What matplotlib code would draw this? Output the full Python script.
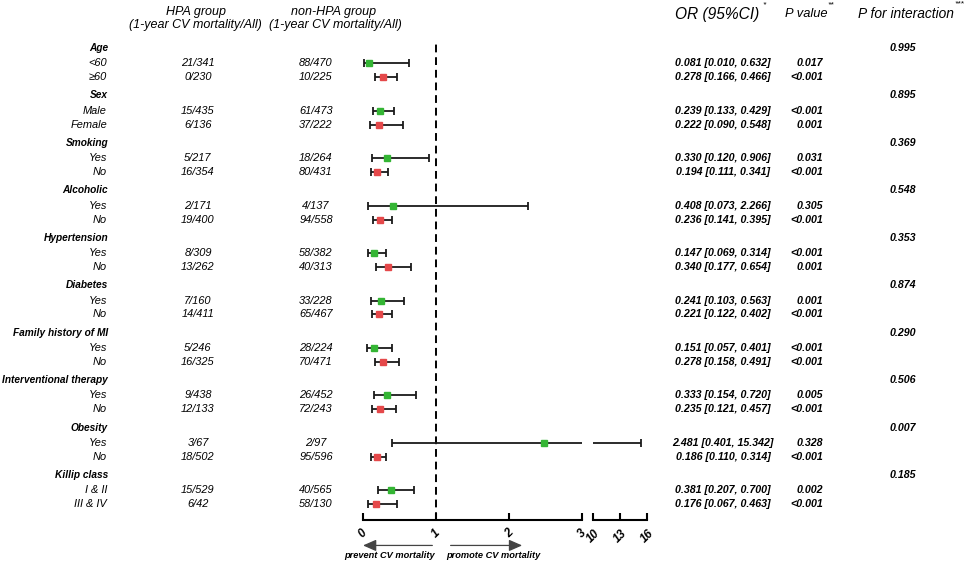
import matplotlib
matplotlib.use('Agg')
import matplotlib.pyplot as plt
import matplotlib.transforms as mtransforms

plt.rcParams['font.family'] = ['Liberation Sans', 'DejaVu Sans']

W, H = 967, 563

groups = ['Age', 'Sex', 'Smoking', 'Alcoholic', 'Hypertension', 'Diabetes',
          'Family history of MI', 'Interventional therapy', 'Obesity', 'Killip class']
subgroups = [['<60', '≥60'], ['Male', 'Female'], ['Yes', 'No'], ['Yes', 'No'],
             ['Yes', 'No'], ['Yes', 'No'], ['Yes', 'No'], ['Yes', 'No'],
             ['Yes', 'No'], ['I & II', 'III & IV']]
hpa = ['21/341', '0/230', '15/435', '6/136', '5/217', '16/354', '2/171', '19/400',
       '8/309', '13/262', '7/160', '14/411', '5/246', '16/325', '9/438', '12/133',
       '3/67', '18/502', '15/529', '6/42']
nonhpa = ['88/470', '10/225', '61/473', '37/222', '18/264', '80/431', '4/137', '94/558',
          '58/382', '40/313', '33/228', '65/467', '28/224', '70/471', '26/452', '72/243',
          '2/97', '95/596', '40/565', '58/130']
odds = [0.081, 0.278, 0.239, 0.222, 0.330, 0.194, 0.408, 0.236, 0.147, 0.340,
        0.241, 0.221, 0.151, 0.278, 0.333, 0.235, 2.481, 0.186, 0.381, 0.176]
ci_lo = [0.010, 0.166, 0.133, 0.090, 0.120, 0.111, 0.073, 0.141, 0.069, 0.177,
         0.103, 0.122, 0.057, 0.158, 0.154, 0.121, 0.401, 0.110, 0.207, 0.067]
ci_hi = [0.632, 0.466, 0.429, 0.548, 0.906, 0.341, 2.266, 0.395, 0.314, 0.654,
         0.563, 0.402, 0.401, 0.491, 0.720, 0.457, 15.342, 0.314, 0.700, 0.463]
pvals = ['0.017', '<0.001', '<0.001', '0.001', '0.031', '<0.001', '0.305', '<0.001',
         '<0.001', '0.001', '0.001', '<0.001', '<0.001', '<0.001', '0.005', '<0.001',
         '0.328', '<0.001', '0.002', '<0.001']
p_inter = ['0.995', '0.895', '0.369', '0.548', '0.353', '0.874', '0.290', '0.506',
           '0.007', '0.185']
ticks_lo = [0, 1, 2, 3]
ticks_hi = [10, 13, 16]

green = '#34b534'
red = '#e5484a'

fig = plt.figure(figsize=(W / 100, H / 100), dpi=100)
ax_top, ax_bot = 40, 520
ax1 = fig.add_axes([363 / W, (H - ax_bot) / H, (582 - 363) / W, (ax_bot - ax_top) / H])
ax2 = fig.add_axes([593 / W, (H - ax_bot) / H, (647 - 593) / W, (ax_bot - ax_top) / H])

# row layout: header then two rows per group
gstep = 3.25
ylim = (32.33, -0.55)
head_y = [g * gstep for g in range(len(groups))]
row_y = []
for g in range(len(groups)):
    row_y += [g * gstep + 1.05, g * gstep + 2.0]

for ax in (ax1, ax2):
    ax.set_ylim(*ylim)
    for i in range(len(odds)):
        col = green if i % 2 == 0 else red
        ax.errorbar(odds[i], row_y[i], xerr=[[odds[i] - ci_lo[i]], [ci_hi[i] - odds[i]]],
                    fmt='s', color=col, ms=5, ecolor='#1a1a1a', elinewidth=1.3,
                    capsize=3, capthick=1.3, mec=col, zorder=3)
    for s in ['top', 'left', 'right']:
        ax.spines[s].set_visible(False)
    ax.spines['bottom'].set_linewidth(1.5)
    ax.set_yticks([])
    ax.tick_params(axis='x', direction='in', length=5, width=1.5, pad=5)

ax1.set_xlim(0, 3)
ax2.set_xlim(10, 16)
ax1.set_xticks(ticks_lo)
ax2.set_xticks(ticks_hi)
for ax in (ax1, ax2):
    for lab in ax.get_xticklabels():
        lab.set_rotation(45)
        lab.set_fontsize(8.5)
        lab.set_fontweight('bold')
        lab.set_fontstyle('italic')
        lab.set_va('top')
        lab.set_ha('center')

ax1.axvline(1, color='black', lw=1.4, ls=(0, (4, 2.5)), zorder=1)

# arrows under the axis
xt = ax1.get_xaxis_transform()
arr = dict(arrowstyle='-|>,head_length=0.8,head_width=0.35', color='#444444', lw=0.9,
           shrinkA=0, shrinkB=0)
ax1.annotate('', xy=(0, -0.053), xytext=(0.95, -0.053), xycoords=xt, textcoords=xt,
             arrowprops=arr, annotation_clip=False)
ax1.annotate('', xy=(2.18, -0.053), xytext=(1.2, -0.053), xycoords=xt, textcoords=xt,
             arrowprops=arr, annotation_clip=False)
ax1.text(0.36, -0.074, 'prevent CV mortality', transform=xt, ha='center', va='center',
         fontsize=6.7, fontweight='bold', fontstyle='italic')
ax1.text(1.79, -0.074, 'promote CV mortality', transform=xt, ha='center', va='center',
         fontsize=6.7, fontweight='bold', fontstyle='italic')

# table text
tr = mtransforms.blended_transform_factory(fig.transFigure, ax1.transData)
fs = 7.9
for g, name in enumerate(groups):
    fig.text(108 / W, head_y[g], name, transform=tr, ha='right', va='center',
             fontsize=7.3, fontweight='bold', fontstyle='italic')
    fig.text(903 / W, head_y[g], p_inter[g], transform=tr, ha='center', va='center',
             fontsize=7.7, fontweight='bold', fontstyle='italic')
    for k in range(2):
        i = 2 * g + k
        y = row_y[i]
        fig.text(107 / W, y, subgroups[g][k], transform=tr, ha='right', va='center',
                 fontsize=fs, fontstyle='italic')
        fig.text(198 / W, y, hpa[i], transform=tr, ha='center', va='center',
                 fontsize=fs, fontstyle='italic')
        fig.text(316 / W, y, nonhpa[i], transform=tr, ha='center', va='center',
                 fontsize=fs, fontstyle='italic')
        fig.text(723 / W, y, '%.3f [%.3f, %.3f]' % (odds[i], ci_lo[i], ci_hi[i]),
                 transform=tr, ha='center', va='center',
                 fontsize=7.7, fontweight='bold', fontstyle='italic')
        fig.text(823 / W, y, pvals[i], transform=tr, ha='right', va='center',
                 fontsize=7.7, fontweight='bold', fontstyle='italic')

# column headers
hs = 9
def top_text(px, py, s, **kw):
    fig.text(px / W, 1 - py / H, s, ha='center', va='center', fontstyle='italic', **kw)

top_text(196, 12, 'HPA group', fontsize=hs)
top_text(195, 25, '(1-year CV mortality/All)', fontsize=hs)
top_text(334, 12, 'non-HPA group', fontsize=hs)
top_text(335, 25, '(1-year CV mortality/All)', fontsize=hs)
top_text(717, 14, 'OR (95%CI)', fontsize=11.2)
top_text(764, 5, '*', fontsize=6)
top_text(806, 14, 'P value', fontsize=9.3)
top_text(831, 5, '**', fontsize=6)
top_text(906, 14, 'P for interaction', fontsize=9.9)
top_text(959, 4, '***', fontsize=6)

fig.savefig('out.png', dpi=100)
